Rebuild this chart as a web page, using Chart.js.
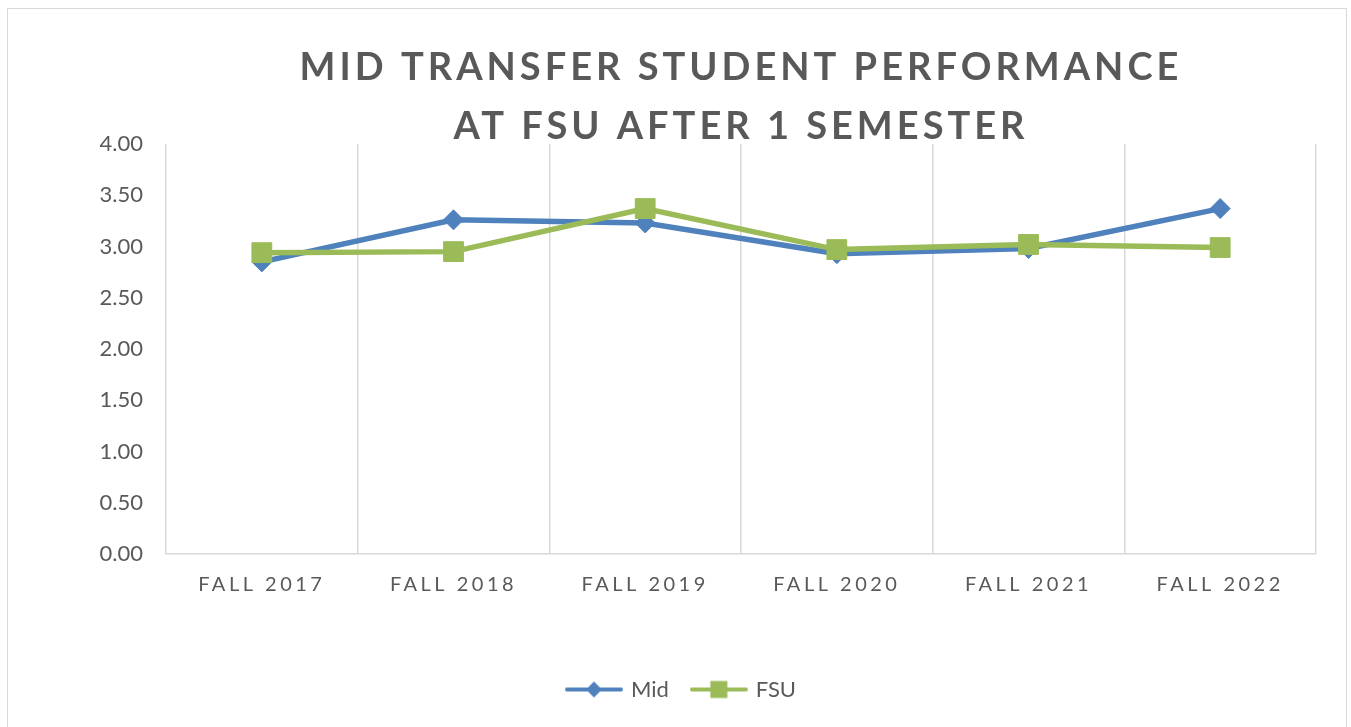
<!DOCTYPE html>
<html>
<head>
<meta charset="utf-8">
<script src="https://cdn.jsdelivr.net/npm/chart.js@4.4.1/dist/chart.umd.min.js"></script>
<style>
  html, body { margin: 0; padding: 0; background: #ffffff; overflow: hidden; }
  #wrap { position: relative; width: 1351px; height: 727px; }
  #frame { position: absolute; left: 7px; top: 8px; width: 1340px; height: 740px; border: 1.5px solid #d9d9d9; box-sizing: border-box; pointer-events: none; }
  canvas { position: absolute; left: 0; top: 0; }
</style>
</head>
<body>
<div id="wrap">
  <canvas id="c" width="1351" height="727"></canvas>
  <div id="frame"></div>
</div>
<script>
// ---- data ----
const titleLines = ['MID TRANSFER STUDENT PERFORMANCE', 'AT FSU AFTER 1 SEMESTER'];
const categories = ['FALL 2017', 'FALL 2018', 'FALL 2019', 'FALL 2020', 'FALL 2021', 'FALL 2022'];
const midValues = [2.85, 3.26, 3.23, 2.93, 2.98, 3.37];
const fsuValues = [2.94, 2.95, 3.37, 2.97, 3.02, 2.99];
const seriesNames = ['Mid', 'FSU'];
const yTickMin = 0, yTickMax = 4, yTickStep = 0.5;

// ---- styles ----
const BLUE = '#4F81BD';
const GREEN = '#9BBB59';
const TEXT = '#595959';
const GRID = '#d9d9d9';
const FONT = 'Lato, "Open Sans", "DejaVu Sans", sans-serif';

function legendImage(color, shape) {
  const c = document.createElement('canvas');
  c.width = 58; c.height = 22;
  const g = c.getContext('2d');
  g.strokeStyle = color; g.fillStyle = color; g.lineWidth = 4; g.lineCap = 'round';
  g.beginPath(); g.moveTo(2, 11); g.lineTo(56, 11); g.stroke();
  g.beginPath();
  if (shape === 'diamond') {
    g.moveTo(29, 3); g.lineTo(37, 11); g.lineTo(29, 19); g.lineTo(21, 11); g.closePath();
  } else {
    g.rect(20.5, 2.5, 17, 17);
  }
  g.fill();
  return c;
}
const legendImgs = [legendImage(BLUE, 'diamond'), legendImage(GREEN, 'square')];

function wrapSpacing(obj, method, spacing) {
  if (!obj || obj['__sp_' + method]) return;
  const orig = obj[method];
  obj[method] = function (...args) {
    const ctx = this.ctx;
    const prev = ctx.letterSpacing;
    ctx.letterSpacing = spacing;
    try { return orig.apply(this, args); } finally { ctx.letterSpacing = prev || '0px'; }
  };
  obj['__sp_' + method] = true;
}

const spacingPlugin = {
  id: 'spacing',
  beforeDraw(chart) {
    wrapSpacing(chart.titleBlock, 'draw', '4px');
    wrapSpacing(chart.scales.x, 'drawLabels', '3.5px');
  }
};

new Chart(document.getElementById('c'), {
  type: 'line',
  data: {
    labels: categories,
    datasets: [
      {
        label: seriesNames[0], data: midValues, order: 1,
        borderColor: BLUE, backgroundColor: BLUE, borderWidth: 5.5,
        pointStyle: 'rectRot', pointRadius: 10, pointBackgroundColor: BLUE,
        pointBorderColor: BLUE, pointBorderWidth: 1, tension: 0, fill: false
      },
      {
        label: seriesNames[1], data: fsuValues, order: 0,
        borderColor: GREEN, backgroundColor: GREEN, borderWidth: 5.5,
        pointStyle: 'rect', pointRadius: 14, pointBackgroundColor: GREEN,
        pointBorderColor: GREEN, pointBorderWidth: 1, tension: 0, fill: false
      }
    ]
  },
  options: {
    responsive: false,
    animation: false,
    devicePixelRatio: 1,
    layout: { padding: { left: 48, right: 35, top: 0, bottom: 16.5 } },
    plugins: {
      tooltip: { enabled: false },
      title: {
        display: true,
        fullSize: false,
        text: titleLines,
        color: TEXT,
        font: { family: FONT, size: 38, weight: 'bold', lineHeight: '59px' },
        padding: { top: 38, bottom: -12 }
      },
      legend: {
        position: 'bottom',
        labels: {
          usePointStyle: true,
          pointStyleWidth: 52,
          padding: 24,
          color: TEXT,
          font: { family: FONT, size: 22 },
          generateLabels: (chart) => seriesNames.map((name, i) => ({
            text: name,
            fontColor: TEXT,
            pointStyle: legendImgs[i],
            hidden: false,
            datasetIndex: i,
            lineWidth: 0,
            strokeStyle: 'transparent',
            fillStyle: 'transparent'
          }))
        }
      }
    },
    scales: {
      x: {
        offset: true,
        grid: { display: true, offset: true, color: GRID, lineWidth: 1.5, drawTicks: false },
        border: { display: true, color: GRID, width: 1.5 },
        ticks: { color: TEXT, font: { family: FONT, size: 20 }, padding: 19, maxRotation: 0, autoSkip: false },
        afterFit: (s) => { s.height = 100.5; }
      },
      y: {
        min: yTickMin, max: yTickMax,
        grid: { display: false, drawTicks: false },
        border: { display: false },
        ticks: {
          stepSize: yTickStep, color: TEXT, padding: 23,
          font: { family: FONT, size: 22 },
          callback: (v) => Number(v).toFixed(2)
        },
        afterFit: (s) => { s.width = 118; }
      }
    }
  },
  plugins: [spacingPlugin]
});
</script>
</body>
</html>
